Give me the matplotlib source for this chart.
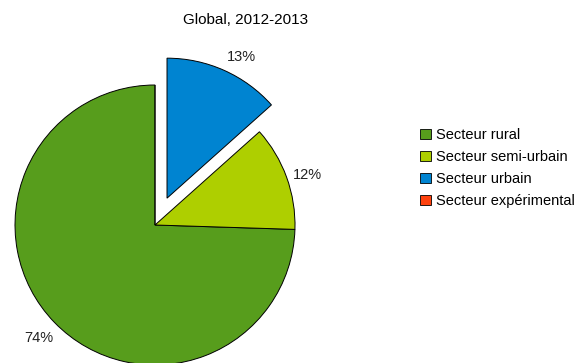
import matplotlib
matplotlib.use("Agg")
import matplotlib.pyplot as plt

plt.rcParams['font.family'] = ['Liberation Sans', 'DejaVu Sans']

secteurs = ["Secteur rural", "Secteur semi-urbain", "Secteur urbain", "Secteur expérimental"]
parts = [74.5, 12.1, 13.4, 0.0]
couleurs = ["#579d1c", "#aecf00", "#0084d1", "#ff420e"]
eclate = [0, 0, 0.21, 0]
titre = "Global, 2012-2013"

fig = plt.figure(figsize=(5.88, 3.63), dpi=100)
ax = fig.add_axes([15/588, -2/363, 280/588, 280/363])

etiquettes = ["%.0f%%" % v if v > 0 else "" for v in parts]
wedges, texts = ax.pie(parts, colors=couleurs, explode=eclate, startangle=90,
                       counterclock=True, labels=etiquettes, labeldistance=1.16,
                       wedgeprops=dict(edgecolor="black", linewidth=0.7),
                       textprops=dict(fontsize=10.5, color="#222222"))
for w in wedges:
    w.set_clip_on(False)
for t in texts:
    t.set_ha("center")
    t.set_va("center")
# small nudges so the labels sit a bit off the wedge corners
decalages = [(0, 0), (0, -0.04), (0.06, -0.05), (0, 0)]
for t, (dx, dy) in zip(texts, decalages):
    x, y = t.get_position()
    t.set_position((x + dx, y + dy))
ax.set_xlim(-1, 1)
ax.set_ylim(-1, 1)
ax.set_aspect("equal")
ax.axis("off")

fig.text(246/588, 1 - 20/363, titre, ha="center", va="center", fontsize=11)

leg = fig.legend(wedges, secteurs, loc="upper left", bbox_to_anchor=(420/588, 1 - 128/363),
                 frameon=False, fontsize=10.5, handlelength=0.75, handleheight=0.75,
                 handletextpad=0.35, labelspacing=0.55, borderpad=0, borderaxespad=0)
for h in leg.legend_handles:
    h.set_edgecolor("black")
    h.set_linewidth(0.6)

fig.savefig("out.png", dpi=100)
